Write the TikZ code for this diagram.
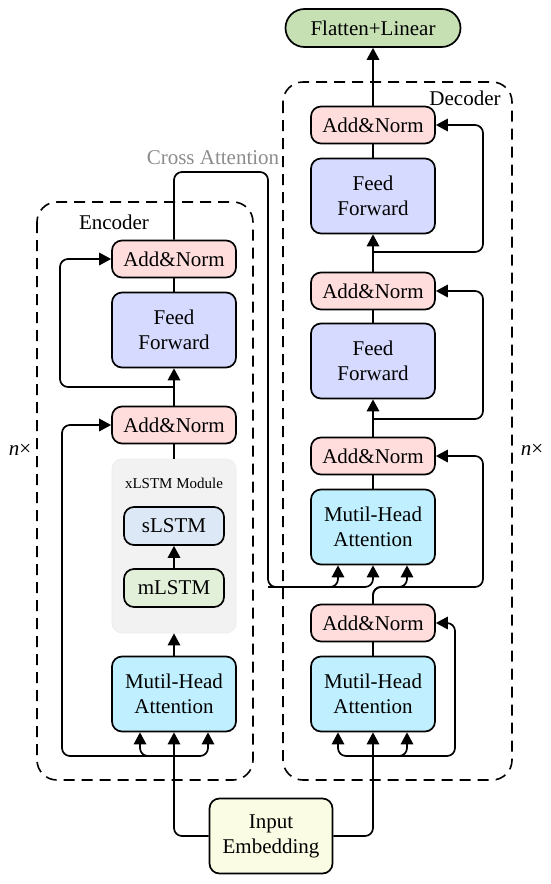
\documentclass[tikz,border=0pt]{standalone}
\usepackage{fontspec}
\setmainfont{Liberation Serif}
\usepackage{tikz}
\usetikzlibrary{arrows.meta}
\definecolor{normpink}{RGB}{255,221,221}
\definecolor{ffblue}{RGB}{214,218,255}
\definecolor{attcyan}{RGB}{192,240,255}
\definecolor{lstmgray}{RGB}{242,242,242}
\definecolor{slstmblue}{RGB}{220,232,245}
\definecolor{mlstmgreen}{RGB}{226,240,217}
\definecolor{outgreen}{RGB}{198,224,180}
\definecolor{embyellow}{RGB}{250,252,228}
\definecolor{crossgray}{RGB}{140,140,140}

\begin{document}
\begin{tikzpicture}[x=1pt, y=-1pt, line width=1.7pt, font=\fontsize{21}{25}\selectfont,
    block/.style={draw, rounded corners=10pt, inner sep=0pt, minimum width=124pt, align=center},
    normbox/.style={block, fill=normpink, minimum height=37pt},
    ffbox/.style={block, fill=ffblue, minimum height=75pt},
    attbox/.style={block, fill=attcyan, minimum height=75pt},
    lstmbox/.style={block, minimum width=100pt, minimum height=38pt},
    arr/.style={-{Triangle[length=12pt,width=12.5pt]}},
    loopbox/.style={dash pattern=on 11pt off 7pt, rounded corners=20pt, line width=1.6pt}]
    \useasboundingbox (0,0) rectangle (550,884);

    \draw[loopbox] (37,202) rectangle (253,780);
    \draw[loopbox] (283,82) rectangle (512,780);
    \node (enclabel) at (114,222) {Encoder};
    \node (declabel) at (465,98) {Decoder};
    \node (nleft) at (20,450) {\textit{n}×};
    \node (nright) at (532,450) {\textit{n}×};
    \node[text=crossgray] (crosslabel) at (213,158) {Cross Attention};

    \node[fill=lstmgray, draw=black!7, line width=0.8pt, rounded corners=10pt, minimum width=124pt, minimum height=174pt, inner sep=0pt] (xlstm) at (174,546) {};
    \node[font=\fontsize{15}{18}\selectfont] (xlabel) at (174,483) {xLSTM Module};
    \node[lstmbox, fill=slstmblue] (slstm) at (174,526) {sLSTM};
    \node[lstmbox, fill=mlstmgreen] (mlstm) at (174,588) {mLSTM};
    \node[attbox] (encMHA) at (174,694) {Mutil-Head\\Attention};
    \node[normbox] (encAN1) at (174,425) {Add\&Norm};
    \node[ffbox] (encFF) at (174,330) {Feed\\Forward};
    \node[normbox] (encAN2) at (174,259) {Add\&Norm};

    \node[attbox] (decMHA) at (373,694) {Mutil-Head\\Attention};
    \node[normbox] (decAN0) at (373,623) {Add\&Norm};
    \node[attbox] (decCA) at (373,527) {Mutil-Head\\Attention};
    \node[normbox] (decAN1) at (373,456) {Add\&Norm};
    \node[ffbox] (decFF1) at (373,361) {Feed\\Forward};
    \node[normbox] (decAN2) at (373,291) {Add\&Norm};
    \node[ffbox] (decFF2) at (373,196) {Feed\\Forward};
    \node[normbox] (decAN3) at (373,125) {Add\&Norm};
    \node[block, fill=outgreen, minimum width=175pt, minimum height=38pt, rounded corners=19pt] (flat) at (373,28) {Flatten+Linear};
    \node[block, fill=embyellow, minimum width=123pt, minimum height=75pt] (embed) at (271,836) {Input\\Embedding};

    \coordinate (eb) at (174,756);
    \coordinate (encRes1) at (62,756);
    \coordinate (encK) at ([xshift=-34pt]encMHA.south);
    \coordinate (encV) at ([xshift=34pt]encMHA.south);
    \draw[arr, rounded corners=8pt] (embed.west) -| (encMHA.south);
    \draw[arr, rounded corners=8pt] (eb) -- (encRes1) |- (encAN1.west);
    \draw[arr, rounded corners=8pt] (eb) -| (encK);
    \draw[arr, rounded corners=8pt] (eb) -| (encV);
    \draw[arr] (encMHA.north) -- (xlstm.south);
    \draw[arr] (mlstm.north) -- (slstm.south);
    \draw (xlstm.north) -- (encAN1.south);
    \draw[arr] (encAN1.north) -- (encFF.south);
    \coordinate (eb2) at (174,387);
    \coordinate (encRes2) at (60,387);
    \draw[arr, rounded corners=8pt] (eb2) -- (encRes2) |- (encAN2.west);
    \draw (encFF.north) -- (encAN2.south);

    \coordinate (ca1) at (268,172);
    \coordinate (ca2) at (268,587);
    \coordinate (decK) at ([xshift=-35pt]decCA.south);
    \coordinate (decV) at (decCA.south);
    \coordinate (decQ) at ([xshift=34pt]decCA.south);
    \draw[arr, rounded corners=8pt] (encAN2.north) |- (ca1) -- (ca2) -| (decK);
    \draw[arr, rounded corners=8pt] (ca2) -| (decV);
    \coordinate (dq0) at (407,587);
    \coordinate (decRes1) at (483,587);
    \draw[arr, rounded corners=8pt] (decAN0.north) |- (dq0) -- (decQ);
    \draw[arr, rounded corners=8pt] (decAN0.north) |- (decRes1) |- (decAN1.east);

    \coordinate (db) at (373,756);
    \coordinate (decK0) at ([xshift=-35pt]decMHA.south);
    \coordinate (decQ0) at ([xshift=34pt]decMHA.south);
    \coordinate (decRes0) at (455,756);
    \draw[arr, rounded corners=8pt] (embed.east) -| (decMHA.south);
    \draw[arr, rounded corners=8pt] (db) -| (decK0);
    \draw[arr, rounded corners=8pt] (db) -| (decQ0);
    \draw[arr, rounded corners=8pt] (db) -- (decRes0) |- (decAN0.east);
    \draw (decMHA.north) -- (decAN0.south);
    \draw (decCA.north) -- (decAN1.south);
    \draw[arr] (decAN1.north) -- (decFF1.south);
    \coordinate (db2) at (373,419);
    \coordinate (decRes2) at (483,419);
    \draw[arr, rounded corners=8pt] (db2) -- (decRes2) |- (decAN2.east);
    \draw (decFF1.north) -- (decAN2.south);
    \draw[arr] (decAN2.north) -- (decFF2.south);
    \coordinate (db3) at (373,252);
    \coordinate (decRes3) at (483,252);
    \draw[arr, rounded corners=8pt] (db3) -- (decRes3) |- (decAN3.east);
    \draw (decFF2.north) -- (decAN3.south);
    \draw[arr] (decAN3.north) -- (flat.south);
\end{tikzpicture}
\end{document}
